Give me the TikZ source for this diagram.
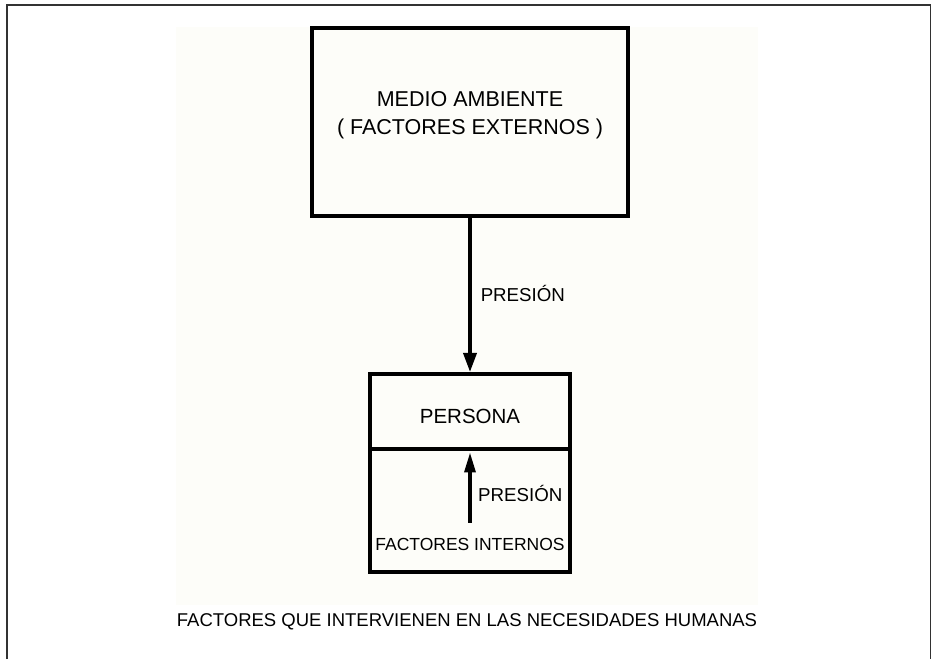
\documentclass[tikz,border=0pt]{standalone}
\usepackage{fontspec}
\setmainfont{Liberation Sans}
\usepackage{tikz}
\usetikzlibrary{positioning,arrows.meta}
\definecolor{creamfill}{RGB}{253,253,249}
\definecolor{framegray}{RGB}{50,50,50}

\begin{document}
\begin{tikzpicture}[
    x=1pt, y=1pt,
    % --- box styles ---
    box/.style={draw, line width=3.5pt, inner sep=0pt, outer sep=0pt, align=center},
    % --- arrow styles ---
    arr/.style={-{Triangle[length=19pt,width=13pt]}, line width=3.5pt},
    % --- label style ---
    lbl/.style={font=\fontsize{18.7}{22}\selectfont, inner sep=0pt,
                text height=13.4pt, text depth=0pt},
]

%% =====================================================================
%%  PAGE: frame (open at the bottom) and cream panel
%% =====================================================================
\useasboundingbox (0,0) rectangle (932,659);
\fill[creamfill] (176,54) rectangle (758,632);
\draw[framegray, line width=1.5pt] (7,0) -- (7,654) -- (930.5,654) -- (930.5,0);

%% ---- ENVIRONMENT BOX ----
\node[box, minimum width=316pt, minimum height=188pt] (env) at (470,537) {};
\node[font=\fontsize{21.5}{28}\selectfont, align=center] (envtxt)
    at ([yshift=6.5pt]env.center)
    {MEDIO AMBIENTE\\( FACTORES EXTERNOS )};

%% ---- PERSON BOX (two stacked parts) ----
\node[box, minimum width=200pt, minimum height=75pt, text height=25pt,
      font=\fontsize{20.5}{24}\selectfont] (persona) at (470,247.5) {PERSONA};
\node[box, minimum width=200pt, minimum height=123pt, below=0pt of persona] (inner) {};
\node[font=\fontsize{17.5}{20}\selectfont, inner sep=3pt] (intfact) at (470,115)
    {FACTORES INTERNOS};

%% ---- CAPTION ----
\node[font=\fontsize{18.5}{22}\selectfont] (caption) at (467,37)
    {FACTORES QUE INTERVIENEN EN LAS NECESIDADES HUMANAS};

%% =====================================================================
%%  ARROWS
%% =====================================================================
%% external pressure
\draw[arr, shorten >=2pt] (env.south)
    -- node[lbl, right=9pt]{PRESIÓN}
    (persona.north);

%% internal pressure
\draw[line width=3.3pt, -{Triangle[length=20pt,width=11pt]},
      shorten <=12pt, shorten >=3.5pt] (intfact.north) -- (persona.south);
\node[lbl, anchor=west] (intpres) at (478,164) {PRESIÓN};

\end{tikzpicture}
\end{document}
